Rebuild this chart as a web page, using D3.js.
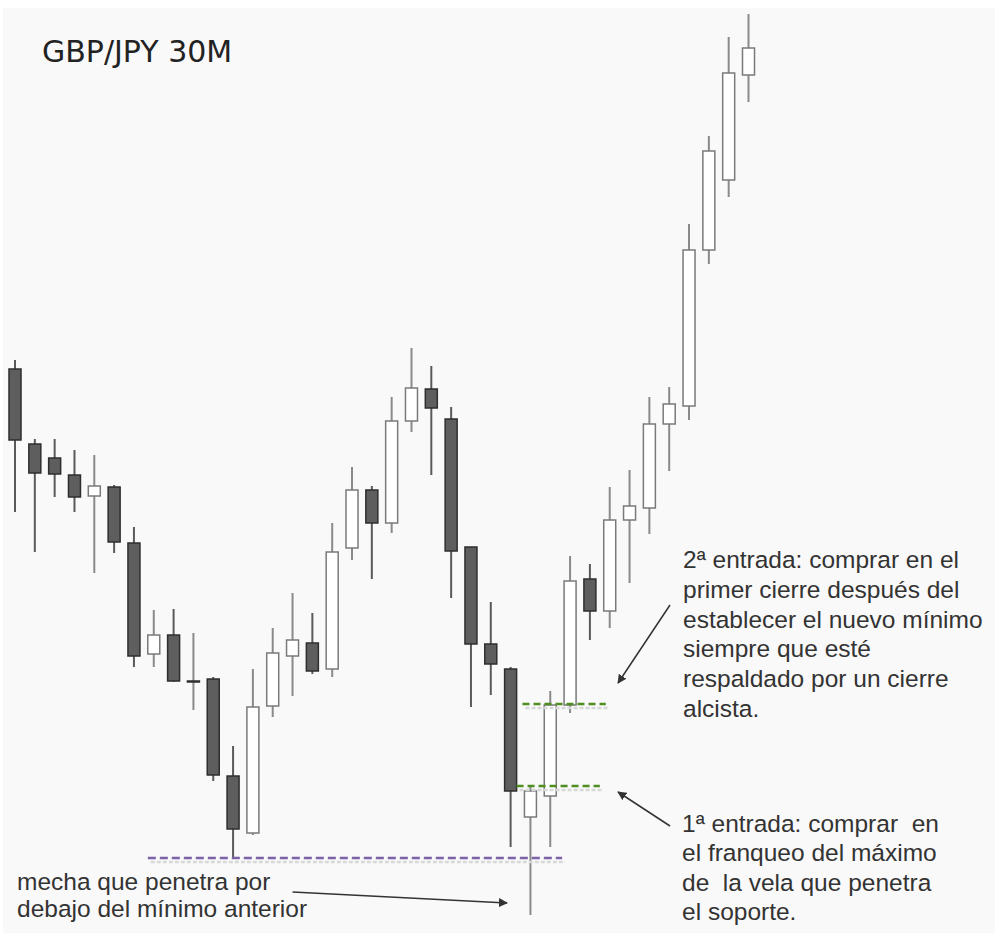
<!DOCTYPE html>
<html lang="es">
<head>
  <meta charset="UTF-8">
  <title>GBP/JPY 30M</title>
  <style>
    body{ margin:0; background:#fff; }
    .note{ font-family: "Liberation Sans", Arial, sans-serif; font-size:24.5px; fill:#333; white-space:pre; }
    .title{ font-family: "DejaVu Sans", Verdana, sans-serif; font-size:30px; fill:#222; }
  </style>
</head>
<body>
<svg id="chart" width="995" height="943"></svg>

<script src="https://cdn.jsdelivr.net/npm/d3@7"></script>
<script>
  "use strict";

  // velas de 30 minutos (precios)
  var opens  = [151.91,151.16,151.02,150.85,150.64,150.73,150.17,149.06,149.25,148.79,
                148.81,147.84,147.27,148.54,149.04,149.17,148.91,150.12,150.70,150.37,
                151.39,151.71,151.41,150.13,149.16,148.91,147.43,147.64,148.55,149.81,
                149.49,150.40,150.52,151.36,151.54,153.10,153.80,154.85];
  var highs  = [152.00,151.21,151.21,151.10,151.05,150.75,150.33,149.50,149.51,149.27,
                148.83,148.14,148.91,149.32,149.67,149.47,150.37,150.93,150.74,151.63,
                152.12,151.94,151.53,150.13,149.58,148.93,147.73,148.69,150.04,149.96,
                150.73,150.90,151.63,151.73,153.36,154.24,155.23,155.46];
  var lows   = [150.48,150.08,150.63,150.48,149.87,150.07,148.93,148.93,148.78,148.50,
                147.79,147.03,147.25,148.43,148.64,148.86,148.83,150.00,149.81,150.27,
                151.28,150.85,149.62,148.53,148.65,147.13,146.45,147.13,148.47,149.20,
                149.32,149.77,150.26,150.89,151.40,152.96,153.63,154.58];
  var closes = [151.20,150.87,150.86,150.63,150.74,150.18,149.04,149.25,148.79,148.79,
                147.85,147.31,148.53,149.07,149.20,148.89,150.08,150.70,150.37,151.39,
                151.72,151.52,150.09,149.16,148.96,147.69,147.69,148.55,149.79,149.49,
                150.40,150.54,151.36,151.56,153.10,154.09,154.87,155.12];

  // niveles marcados: precio, vela inicial y final
  var supportLevel = [147.02, 6.7, 27.6];
  var entryLevels  = [[148.56, 25.6, 29.8], [147.74, 25.3, 29.5]];

  var noteMecha   = ["mecha que penetra por", "debajo del mínimo anterior"];
  var noteEntry2  = ["2ª entrada: comprar en el", "primer cierre después del",
                     "establecer el nuevo mínimo", "siempre que esté",
                     "respaldado por un cierre", "alcista."];
  var noteEntry1  = ["1ª entrada: comprar  en", "el franqueo del máximo",
                     "de  la vela que penetra", "el soporte."];

  // flechas: [vela, precio] origen -> punta
  var arrows = [
    [[14.0, 146.68], [24.82, 146.57]],
    [[33.04, 149.55], [30.42, 148.77]],
    [[33.04, 147.34], [30.42, 147.68]]
  ];

  var candles = opens.map(function(o, i){
    return {i: i, o: o, h: highs[i], l: lows[i], c: closes[i]};
  });

  var svg = d3.select("#chart");
  var x = d3.scaleLinear().domain([0, 37]).range([15, 748.5]);
  var y = d3.scaleLinear().domain([146, 155.6]).range([960, 0]);
  var bodyW = 12;

  svg.append("rect").attr("x", 3).attr("y", 8).attr("width", 992).attr("height", 925)
    .attr("fill", "#f9f9f9");

  svg.append("defs").append("marker")
    .attr("id", "head").attr("viewBox", "0 0 10 10").attr("refX", 9).attr("refY", 5)
    .attr("markerWidth", 9).attr("markerHeight", 9).attr("orient", "auto")
    .attr("markerUnits", "userSpaceOnUse")
    .append("path").attr("d", "M0,0 L10,5 L0,10 z").attr("fill", "#333");

  // niveles (sombra gris + línea discontinua)
  function level(lv, color, dash){
    svg.append("line")
      .attr("x1", x(lv[1]) + 3).attr("x2", x(lv[2]) + 3)
      .attr("y1", y(lv[0]) + 4).attr("y2", y(lv[0]) + 4)
      .attr("stroke", "#d8d8d8").attr("stroke-width", 2.5).attr("stroke-dasharray", "4,2");
    svg.append("line")
      .attr("x1", x(lv[1])).attr("x2", x(lv[2]))
      .attr("y1", y(lv[0])).attr("y2", y(lv[0]))
      .attr("stroke", color).attr("stroke-width", 2.5).attr("stroke-dasharray", dash);
  }

  var g = svg.append("g");
  g.selectAll("line.wick").data(candles).enter().append("line")
    .attr("class", "wick")
    .attr("x1", function(d){ return x(d.i); })
    .attr("x2", function(d){ return x(d.i); })
    .attr("y1", function(d){ return y(d.h); })
    .attr("y2", function(d){ return y(d.l); })
    .attr("stroke", function(d){ return d.c < d.o ? "#5a5a5a" : "#8a8a8a"; })
    .attr("stroke-width", 2);

  g.selectAll("rect.body").data(candles).enter().append("rect")
    .attr("class", "body")
    .attr("x", function(d){ return x(d.i) - bodyW / 2; })
    .attr("y", function(d){ return y(Math.max(d.o, d.c)); })
    .attr("width", bodyW)
    .attr("height", function(d){ return Math.max(1, Math.abs(y(d.o) - y(d.c))); })
    .attr("fill", function(d){ return d.c < d.o ? "#5e5e5e" : (d.c === d.o ? "#444" : "#fff"); })
    .attr("stroke", function(d){ return d.c <= d.o ? "#2e2e2e" : "#7a7a7a"; })
    .attr("stroke-width", 1.5);

  level(supportLevel, "#7d62a8", "8,4");
  entryLevels.forEach(function(lv){ level(lv, "#4f8f22", "7,4"); });

  svg.selectAll("line.arrow").data(arrows).enter().append("line")
    .attr("class", "arrow")
    .attr("x1", function(d){ return x(d[0][0]); })
    .attr("y1", function(d){ return y(d[0][1]); })
    .attr("x2", function(d){ return x(d[1][0]); })
    .attr("y2", function(d){ return y(d[1][1]); })
    .attr("stroke", "#333").attr("stroke-width", 1.5)
    .attr("marker-end", "url(#head)");

  svg.append("text").attr("class", "title").attr("x", 42).attr("y", 62).text("GBP/JPY 30M");

  function note(lines, x0, y0, dy){
    svg.append("g").selectAll("text").data(lines).enter().append("text")
      .attr("class", "note")
      .attr("x", x0)
      .attr("y", function(d, i){ return y0 + i * dy; })
      .text(function(d){ return d; });
  }
  note(noteEntry2, 683, 568, 29.8);
  note(noteEntry1, 682, 832, 29.3);
  note(noteMecha, 17, 890, 27);
</script>
</body>
</html>
